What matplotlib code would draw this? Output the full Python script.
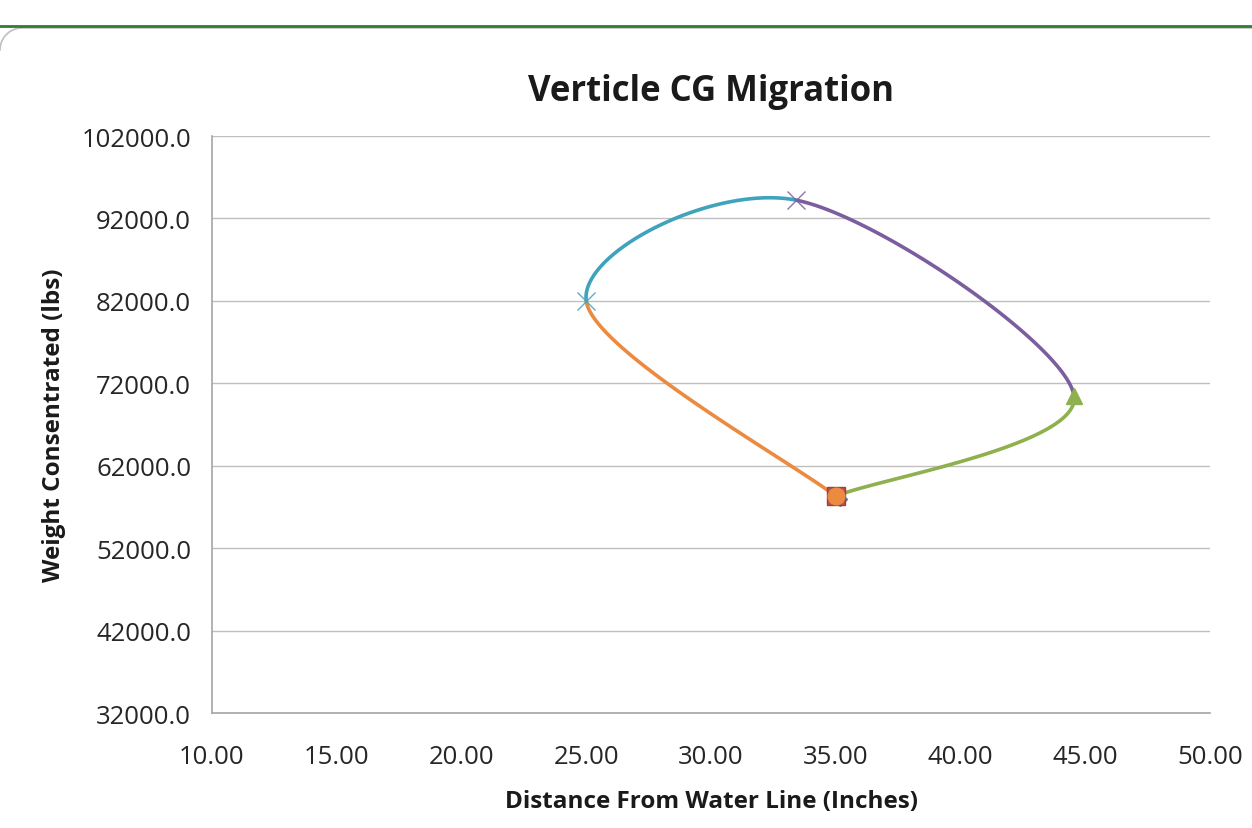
import numpy as np
import matplotlib
matplotlib.use("Agg")
import matplotlib.pyplot as plt
from matplotlib.lines import Line2D

plt.rcParams['font.family'] = ['Open Sans', 'DejaVu Sans']

# points in order along the path, one per series
x_vals = [35.15, 35.0, 44.55, 33.4, 25.0, 35.0]
y_vals = [58000, 58300, 70450, 94230, 81980, 58300]
series = ["S1", "S2", "S3", "S4", "S5", "S6"]
colors = ["#4F81BD", "#C0504D", "#8FB04E", "#7A5E9E", "#3FA3BD", "#EB8A40"]
markers = ["D", "s", "^", "x", "x", "o"]
msizes = [7, 13, 11, 13, 13, 12]

xticks = [10, 15, 20, 25, 30, 35, 40, 45, 50]
yticks = [32000, 42000, 52000, 62000, 72000, 82000, 92000, 102000]


def smooth_seg(px, py, i):
    # Excel-like bezier between point i and i+1
    n = len(px)
    p = np.column_stack([px, py]).astype(float)
    p0 = p[max(i - 1, 0)]
    p1 = p[i]
    p2 = p[i + 1]
    p3 = p[min(i + 2, n - 1)]
    c1 = p1 + (p2 - p0) / 6.0
    c2 = p2 - (p3 - p1) / 6.0
    t = np.linspace(0, 1, 80)[:, None]
    b = ((1 - t) ** 3) * p1 + 3 * ((1 - t) ** 2) * t * c1 + 3 * (1 - t) * t ** 2 * c2 + t ** 3 * p2
    return b[:, 0], b[:, 1]


W, H = 1252, 829
fig = plt.figure(figsize=(W / 100, H / 100), dpi=100)
ax = fig.add_axes([0.1693, 0.1387, 0.7972, 0.696])

for i in range(2, len(x_vals)):
    sx, sy = smooth_seg(x_vals, y_vals, i - 1)
    ax.plot(sx, sy, color=colors[i], lw=2.6, solid_capstyle='round', zorder=3)

for i in range(len(x_vals)):
    ec = "#A0403D" if markers[i] == "s" else colors[i]
    ax.plot(x_vals[i], y_vals[i], marker=markers[i], ms=msizes[i], color=colors[i],
            mec=ec, mew=1.0, alpha=0.85 if markers[i] == "x" else 1, ls='none', zorder=4 + i)

ax.set_xlim(10, 50)
ax.set_ylim(32000, 102000)
ax.set_xticks(xticks)
ax.set_yticks(yticks)
ax.set_xticklabels([f"{v:.2f}" for v in xticks])
ax.set_yticklabels([f"{v:.1f}" for v in yticks])
ax.tick_params(axis="y", length=0, labelsize=18.5, colors="#262626", pad=15)
ax.tick_params(axis="x", length=0, labelsize=18.5, colors="#262626", pad=22)
ax.yaxis.grid(True, color="#BFBFBF", lw=1.0)
ax.set_axisbelow(True)
for s in ["top", "right"]:
    ax.spines[s].set_visible(False)
for s in ["left", "bottom"]:
    ax.spines[s].set_color("#A6A6A6")
    ax.spines[s].set_linewidth(1.2)

ax.set_title("Verticle CG Migration", fontsize=25, fontweight="bold", color="#1A1A1A", pad=26)
ax.set_xlabel("Distance From Water Line (Inches)", fontsize=17.5, fontweight="bold", color="#1A1A1A", labelpad=15)
ax.set_ylabel("Weight Consentrated (lbs)", fontsize=17.5, fontweight="bold", color="#1A1A1A", labelpad=11)

# chart frame: top edge and rounded top-left corner
ang = np.linspace(np.pi / 2, np.pi, 30)
cx, cy, r = 22, 51, 22
arc_x = (cx + r * np.cos(ang)) / W
arc_y = 1 - (cy - r * np.sin(ang)) / H
fig.lines.append(Line2D(arc_x, arc_y, transform=fig.transFigure, color="#BFBFBF", lw=1.2))
fig.lines.append(Line2D([22 / W, 1], [1 - 29 / H, 1 - 29 / H], transform=fig.transFigure,
                        color="#BFBFBF", lw=1.2))
fig.lines.append(Line2D([0, 1], [1 - 27 / H, 1 - 27 / H], transform=fig.transFigure,
                        color="#2E7D32", lw=2))

fig.savefig("out.png", dpi=100)
